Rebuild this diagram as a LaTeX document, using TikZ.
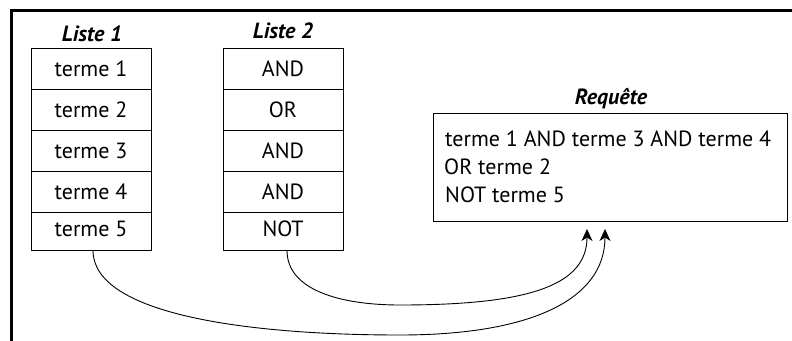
\documentclass[tikz,border=0pt]{standalone}
\usepackage{fontspec}
\setmainfont{PT Sans}
\usetikzlibrary{arrows.meta}
\begin{document}
\begin{tikzpicture}[x=1pt,y=-1pt,
  font=\fontsize{22}{26}\selectfont,
  cell/.style={draw, line width=0.9pt, minimum width=120pt, minimum height=41pt,
    inner sep=0pt, text height=15pt, text depth=0pt},
  lastcell/.style={cell, minimum height=38pt, text depth=5pt},
  title/.style={anchor=base, font=\fontsize{22}{26}\selectfont\bfseries\itshape},
  qline/.style={anchor=base west, inner sep=0pt},
  link/.style={line width=0.9pt, -{Stealth[length=12pt,width=11pt,inset=3.5pt]}}]
\useasboundingbox (0,0) rectangle (792,340);
\draw[line width=3pt] (11.5,341) -- (11.5,10.5) -- (793,10.5);

\node[title] (t1) at (92,41) {Liste 1};
\node[title] (t2) at (283,38) {Liste 2};
\node[title] (t3) at (611,104) {Requête};

\node[cell] (a1) at (91,68.5) {terme 1};
\node[cell] (a2) at (91,109.5) {terme 2};
\node[cell] (a3) at (91,150.5) {terme 3};
\node[cell] (a4) at (91,191.5) {terme 4};
\node[lastcell] (a5) at (91,231) {terme 5};

\node[cell] (b1) at (283,68.5) {AND};
\node[cell] (b2) at (283,109.5) {OR};
\node[cell] (b3) at (283,150.5) {AND};
\node[cell] (b4) at (283,191.5) {AND};
\node[lastcell] (b5) at (283,231) {NOT};

\node[draw, line width=0.9pt, minimum width=354pt, minimum height=108pt, inner sep=0pt] (req) at (610,167) {};
\node[qline] (q1) at (445,146) {terme 1 AND terme 3 AND terme 4};
\node[qline] (q2) at (444,174) {OR terme 2};
\node[qline] (q3) at (445,202) {NOT terme 5};

\coordinate (e1) at (605,229);
\coordinate (e2) at (587,229);
\draw[link] ([xshift=2pt]a5.south) .. controls (93,315) and (250,335) .. (400,335)
  .. controls (530,335) and (605,300) .. (e1);
\draw[link] ([xshift=4pt]b5.south) .. controls (287,290) and (340,305) .. (400,305)
  .. controls (530,305) and (587,285) .. (e2);
\end{tikzpicture}
\end{document}
